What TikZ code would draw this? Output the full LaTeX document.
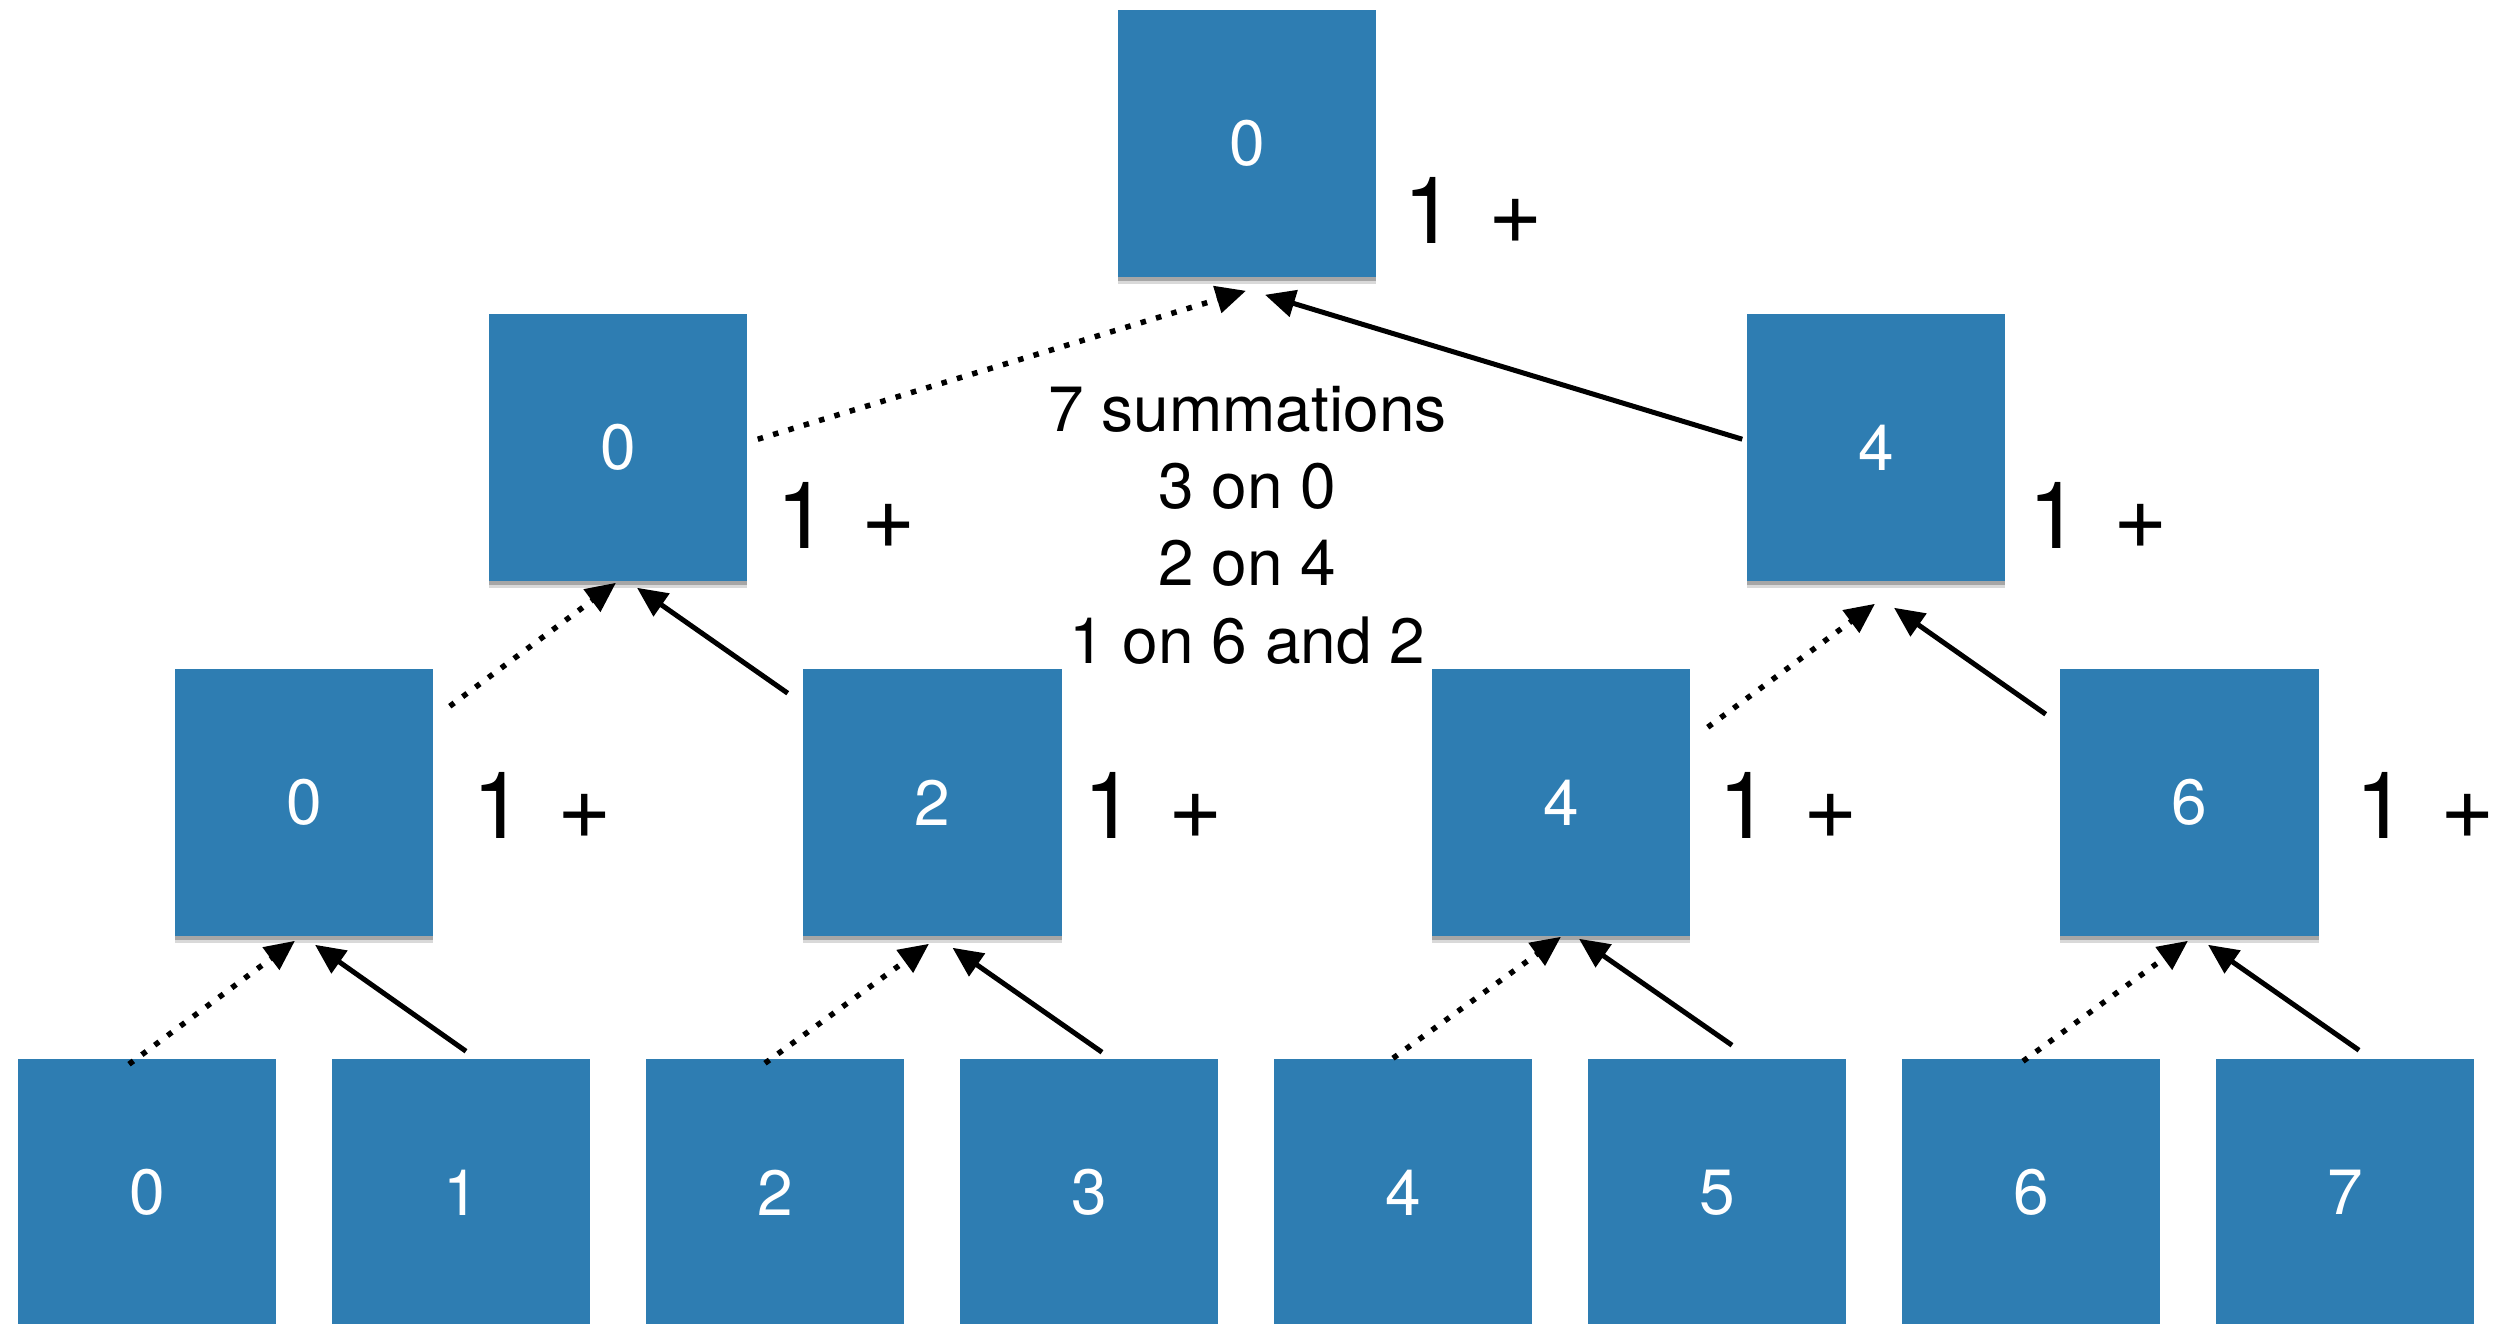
\documentclass[tikz,border=0pt]{standalone}
\usepackage{fontspec}
\setmainfont{TeX Gyre Heros}
\usetikzlibrary{arrows.meta,calc,shadows}
\definecolor{boxblue}{RGB}{46,125,178}
\begin{document}
\begin{tikzpicture}[x=0.01cm,y=-0.01cm,
  blk/.style={rectangle, fill=boxblue, minimum width=2.58cm, minimum height=2.67cm,
    inner sep=0pt, text=white, font=\fontsize{18.2pt}{22pt}\selectfont,
    general shadow={shadow xshift=0cm, shadow yshift=-0.07cm, shadow scale=1.0, opacity=0.15, fill=black},
    drop shadow={shadow xshift=0cm, shadow yshift=-0.04cm, opacity=0.3, fill=black!80}},
  plus/.style={anchor=base west, inner sep=0pt, font=\fontsize{26.5pt}{30pt}\selectfont},
  tipx/.tip={Triangle[length=0.3cm,width=0.27cm]},
  solidarr/.style={line width=0.05cm, -tipx},
  dotarr/.style={line width=0.055cm, dash pattern=on 0.055cm off 0.105cm, -tipx}]
\useasboundingbox (0,0) rectangle (2520,1324);
% boxes
\node[blk] (t) at (1247,143.5) {0};
\node[blk] (a) at (618,447.5) {0};
\node[blk] (b) at (1876,447.5) {4};
\node[blk] (c0) at (304,802.5) {0};
\node[blk] (c1) at (932.5,802.5) {2};
\node[blk] (c2) at (1561,802.5) {4};
\node[blk] (c3) at (2189.5,802.5) {6};
\node[blk] (d0) at (147,1192.5) {0};
\node[blk] (d1) at (461,1192.5) {1};
\node[blk] (d2) at (775,1192.5) {2};
\node[blk] (d3) at (1089,1192.5) {3};
\node[blk] (d4) at (1403,1192.5) {4};
\node[blk] (d5) at (1717,1192.5) {5};
\node[blk] (d6) at (2031,1192.5) {6};
\node[blk] (d7) at (2345,1192.5) {7};
% labels
\node[plus] (lt) at (1403,243) {1\kern0.08em\ +};
\node[plus] (la) at (776,548) {1\kern0.08em\ +};
\node[plus] (lb) at (2028,548) {1\kern0.08em\ +};
\node[plus] (lc0) at (472,838) {1\kern0.08em\ +};
\node[plus] (lc1) at (1083,838) {1\kern0.08em\ +};
\node[plus] (lc2) at (1718,838) {1\kern0.08em\ +};
\node[plus] (lc3) at (2355,838) {1\kern0.08em\ +};
\node[anchor=base, align=center, inner sep=0pt,
  font=\fontsize{18.2pt}{21.9pt}\selectfont] (sum) at (1247.5,663)
  {7 summations\\3 on 0\\2 on 4\\1 on 6 and 2};
% bottom -> level 3
\draw[dotarr] ($(d0.north)+(-18,6)$) -- ($(c0.south)+(-9,4)$);
\draw[solidarr] ($(d1.north)+(5,-7)$) -- ($(c0.south)+(11,8)$);
\draw[dotarr] ($(d2.north)+(-10,5)$) -- ($(c1.south)+(-3.5,7)$);
\draw[solidarr] ($(d3.north)+(13,-6)$) -- ($(c1.south)+(20,11)$);
\draw[dotarr] ($(d4.north)+(-10,0)$) -- ($(c2.south)+(0,0)$);
\draw[solidarr] ($(d5.north)+(15,-13)$) -- ($(c2.south)+(18,2)$);
\draw[dotarr] ($(d6.north)+(-8,3)$) -- ($(c3.south)+(-1.5,4)$);
\draw[solidarr] ($(d7.north)+(14,-8)$) -- ($(c3.south)+(18.5,8)$);
% level 3 -> level 2
\draw[dotarr] ($(c0.north east)+(16,38)$) -- ($(a.south)+(-2,1)$);
\draw[solidarr] ($(c1.north west)+(-15,25)$) -- ($(a.south)+(19,6)$);
\draw[dotarr] ($(c2.north east)+(17,59)$) -- ($(b.south)+(-1,22)$);
\draw[solidarr] ($(c3.north west)+(-14,46)$) -- ($(b.south)+(18,26)$);
% level 2 -> top
\draw[dotarr] ($(a.north east)+(10,126)$) -- ($(t.south)+(-1,13)$);
\draw[solidarr] ($(b.north west)+(-4,126)$) -- ($(t.south)+(18,17)$);
\end{tikzpicture}
\end{document}
